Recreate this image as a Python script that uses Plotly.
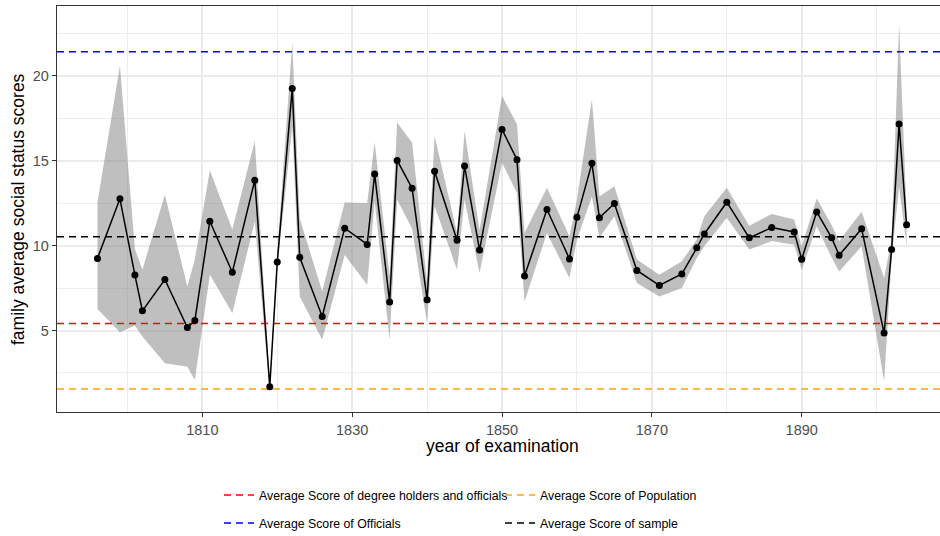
import plotly.graph_objects as go

# ---------------- data ----------------
years = [1796, 1799, 1801, 1802, 1805, 1808, 1809, 1811, 1814, 1817, 1819, 1820,
         1822, 1823, 1826, 1829, 1832, 1833, 1835, 1836, 1838, 1840, 1841, 1844,
         1845, 1847, 1850, 1852, 1853, 1856, 1859, 1860, 1862, 1863, 1865, 1868,
         1871, 1874, 1876, 1877, 1880, 1883, 1886, 1889, 1890, 1892, 1894, 1895,
         1898, 1901, 1902, 1903, 1904]
mean_score = [9.25, 12.76, 8.27, 6.16, 8.01, 5.18, 5.59, 11.44, 8.43, 13.86, 1.69, 9.04,
              19.26, 9.31, 5.83, 11.03, 10.07, 14.22, 6.68, 15.02, 13.38, 6.82, 14.39, 10.32,
              14.69, 9.75, 16.85, 15.06, 8.21, 12.13, 9.22, 11.67, 14.85, 11.64, 12.48, 8.54,
              7.66, 8.33, 9.87, 10.69, 12.56, 10.46, 11.07, 10.81, 9.20, 11.99, 10.46, 9.43,
              10.99, 4.85, 9.77, 17.17, 11.23]
lower_ci = [6.27, 4.90, 5.30, 4.65, 3.07, 2.87, 2.09, 8.29, 6.03, 11.44, 1.35, 8.70,
            17.00, 7.00, 4.45, 9.45, 7.70, 12.60, 4.45, 12.72, 11.00, 5.43, 12.33, 8.58,
            12.72, 8.39, 14.89, 13.11, 6.71, 10.75, 8.09, 10.36, 12.90, 10.46, 11.73, 7.80,
            7.00, 7.50, 9.28, 9.96, 11.64, 9.77, 10.27, 10.06, 8.58, 11.14, 9.30, 8.48,
            9.96, 1.99, 9.18, 13.50, 9.96]
upper_ci = [12.55, 20.60, 9.80, 8.60, 13.00, 7.60, 9.18, 14.45, 10.95, 16.16, 1.95, 9.60,
            21.97, 11.60, 7.30, 12.55, 12.52, 16.10, 8.20, 17.25, 16.07, 7.80, 16.46, 10.75,
            16.75, 10.90, 18.82, 17.15, 10.75, 13.41, 10.55, 12.72, 18.63, 12.90, 13.50, 9.18,
            8.29, 9.08, 10.36, 11.73, 13.41, 11.18, 11.87, 11.54, 9.96, 12.78, 11.20, 10.27,
            12.00, 8.10, 10.36, 23.06, 11.90]

ref_names = ["Average Score of degree holders and officials",
             "Average Score of Officials",
             "Average Score of Population",
             "Average Score of sample"]
ref_values = [5.41, 21.42, 1.56, 10.53]
ref_colors = ["#FF0000", "#0000FF", "#FFA500", "#000000"]

x_ticks = [1810, 1830, 1850, 1870, 1890]
x_minor = [1800, 1820, 1840, 1860, 1880, 1900]
y_ticks = [5, 10, 15, 20]
y_minor = [2.5, 7.5, 12.5, 17.5, 22.5]

x_range = [1790.6, 1908.46]
y_range = [0.2, 24.12]

FONT = "Liberation Sans, Arial, sans-serif"

fig = go.Figure()

# confidence ribbon
fig.add_trace(go.Scatter(
    x=years + years[::-1],
    y=upper_ci + lower_ci[::-1],
    fill="toself", fillcolor="rgba(128,128,128,0.5)",
    line=dict(width=0), mode="lines", hoverinfo="skip", showlegend=False))

# reference lines (each in its own legend for exact placement)
legend_ids = ["legend", "legend3", "legend2", "legend4"]
for name, val, col, lg in zip(ref_names, ref_values, ref_colors, legend_ids):
    fig.add_trace(go.Scatter(
        x=x_range, y=[val, val], mode="lines", name=name,
        line=dict(color=col, width=1.5, dash="7px,5px"),
        legend=lg, showlegend=True))

# family average line + points
fig.add_trace(go.Scatter(
    x=years, y=mean_score, mode="lines+markers",
    line=dict(color="#000000", width=1.5),
    marker=dict(color="#000000", size=7),
    showlegend=False))

axis_common = dict(
    showline=True, linecolor="#333333", linewidth=1.3,
    ticks="outside", ticklen=4, tickcolor="#333333", tickwidth=1.1,
    tickfont=dict(family=FONT, size=14.5, color="#4D4D4D"),
    showgrid=True, gridcolor="#EBEBEB", gridwidth=1.5,
    zeroline=False,
)

fig.update_xaxes(
    range=x_range, tickmode="array", tickvals=x_ticks,
    ticktext=[str(v) for v in x_ticks], mirror=True,
    minor=dict(tickmode="array", tickvals=x_minor, showgrid=True,
               gridcolor="#EDEDED", gridwidth=0.9, ticks=""),
    **axis_common)
fig.update_yaxes(
    range=y_range, tickmode="array", tickvals=y_ticks,
    ticktext=[str(v) for v in y_ticks], mirror=False,
    ticklabelstandoff=0,
    minor=dict(tickmode="array", tickvals=y_minor, showgrid=True,
               gridcolor="#EDEDED", gridwidth=0.9, ticks=""),
    **axis_common)

L, R, T, B = 57, 0, 6, 124
W, H = 940, 536
pw, ph = W - L - R, H - T - B

def px_x(p):
    return (p - L) / pw

def px_y(p):
    return (H - B - p) / ph

leg_font = dict(family=FONT, size=12.3, color="#000000")
col_x = [px_x(219), px_x(500)]
row_y = [px_y(495), px_y(523)]
legend_pos = {"legend": (col_x[0], row_y[0]), "legend3": (col_x[0], row_y[1]),
              "legend2": (col_x[1], row_y[0]), "legend4": (col_x[1], row_y[1])}
leg_layout = {}
for k, (lx, ly) in legend_pos.items():
    leg_layout[k] = dict(x=lx, y=ly, xanchor="left", yanchor="middle",
                         orientation="v", font=leg_font, bgcolor="rgba(0,0,0,0)",
                         borderwidth=0, itemclick=False)

fig.update_layout(
    width=W, height=H,
    margin=dict(l=L, r=R, t=T, b=B, autoexpand=False),
    plot_bgcolor="#FFFFFF", paper_bgcolor="#FFFFFF",
    font=dict(family=FONT),
    **leg_layout,
    annotations=[
        dict(text="year of examination", xref="paper", yref="paper",
             x=px_x(502), y=px_y(446), xanchor="center", yanchor="middle",
             showarrow=False, font=dict(family=FONT, size=17.5, color="#000000")),
        dict(text="family average social status scores", xref="paper", yref="paper",
             x=px_x(18), y=0.5, xanchor="center", yanchor="middle", textangle=-90,
             showarrow=False, font=dict(family=FONT, size=17.5, color="#000000")),
    ],
)

fig.write_html("out.html")
